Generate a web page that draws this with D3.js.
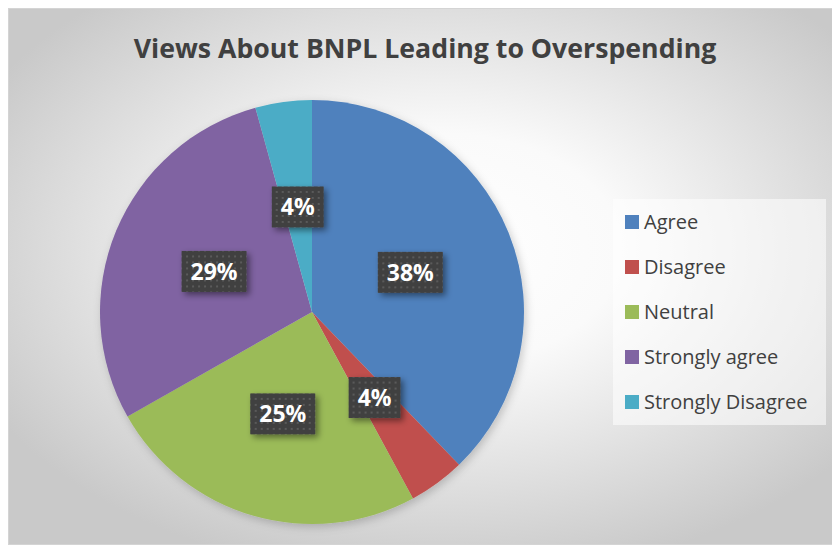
<!DOCTYPE html>
<html lang="en">
<head>
    <meta charset="utf-8">
    <title>Views About BNPL Leading to Overspending</title>
    <script type="text/javascript" src="https://d3js.org/d3.v7.min.js"></script>
    <style type="text/css">
        body { margin: 0; background: #fff; }
        text { font-family: "Open Sans", Lato, sans-serif; }
    </style>
</head>
<body>
    <script type="text/javascript">

        const categories = ["Agree", "Disagree", "Neutral", "Strongly agree", "Strongly Disagree"];
        const values = [37.8, 4.3, 24.7, 28.9, 4.3];
        const colors = ["#4f81bd", "#c0504d", "#9bbb59", "#8064a2", "#4bacc6"];
        const title = "Views About BNPL Leading to Overspending";

        const width = 832;
        const height = 546;
        const cx = 312, cy = 312, radius = 212;

        const data = categories.map((c, i) => ({ name: c, value: values[i] }));
        const total = d3.sum(values);

        const svg = d3.select("body")
                    .append("svg")
                    .attr("width", width)
                    .attr("height", height);

        const defs = svg.append("defs");

        // chart background gradient
        const grad = defs.append("radialGradient")
            .attr("id", "bg")
            .attr("cx", "52%").attr("cy", "45%").attr("r", "62%");
        grad.append("stop").attr("offset", "0%").attr("stop-color", "#ffffff");
        grad.append("stop").attr("offset", "35%").attr("stop-color", "#fafafa");
        grad.append("stop").attr("offset", "100%").attr("stop-color", "#c9c9c9");

        // dotted pattern for label boxes
        const pat = defs.append("pattern")
            .attr("id", "dots")
            .attr("width", 6).attr("height", 6)
            .attr("patternUnits", "userSpaceOnUse");
        pat.append("rect").attr("width", 6).attr("height", 6).attr("fill", "#404040");
        pat.append("rect").attr("x", 2).attr("y", 2).attr("width", 2).attr("height", 2).attr("fill", "#5a5a5a");

        const shadow = defs.append("filter").attr("id", "shadow")
            .attr("x", "-30%").attr("y", "-30%").attr("width", "160%").attr("height", "160%");
        shadow.append("feDropShadow")
            .attr("dx", 3).attr("dy", 3).attr("stdDeviation", 3)
            .attr("flood-color", "#000").attr("flood-opacity", 0.45);

        const pieShadow = defs.append("filter").attr("id", "pieShadow")
            .attr("x", "-10%").attr("y", "-10%").attr("width", "120%").attr("height", "120%");
        pieShadow.append("feDropShadow")
            .attr("dx", 2).attr("dy", 3).attr("stdDeviation", 4)
            .attr("flood-color", "#000").attr("flood-opacity", 0.2);

        // chart area
        svg.append("rect")
            .attr("x", 8.5).attr("y", 8.5)
            .attr("width", width).attr("height", height - 10)
            .attr("fill", "url(#bg)")
            .attr("stroke", "#d4d4d4");

        // title
        svg.append("text")
            .attr("x", 425)
            .attr("y", 58)
            .attr("text-anchor", "middle")
            .attr("font-size", 26.7)
            .attr("font-weight", "bold")
            .attr("fill", "#404040")
            .text(title);

        // pie
        const pie = d3.pie().sort(null).value(d => d.value);
        const arc = d3.arc().innerRadius(0).outerRadius(radius);
        const arcs = pie(data);

        const g = svg.append("g").attr("transform", `translate(${cx},${cy})`);

        g.append("g").attr("filter", "url(#pieShadow)")
            .selectAll("path")
            .data(arcs)
            .enter()
            .append("path")
            .attr("d", arc)
            .attr("fill", (d, i) => colors[i]);

        // data labels
        const fmt = d3.format(".0%");
        const labels = g.selectAll(".lbl")
            .data(arcs)
            .enter()
            .append("g")
            .attr("class", "lbl")
            .attr("transform", d => `translate(${arc.centroid(d)})`);

        labels.append("rect").attr("fill", "url(#dots)").attr("filter", "url(#shadow)");
        labels.append("text")
            .attr("text-anchor", "middle")
            .attr("y", 8.5)
            .attr("font-size", 23)
            .attr("font-weight", "bold")
            .attr("fill", "#fff")
            .text(d => fmt(d.value / total));

        labels.each(function() {
            const t = d3.select(this).select("text").node().getComputedTextLength();
            d3.select(this).select("rect")
                .attr("x", -t / 2 - 9).attr("y", -20.5)
                .attr("width", t + 18).attr("height", 41);
        });

        // legend
        const legend = svg.append("g");
        legend.append("rect")
            .attr("x", 613).attr("y", 199)
            .attr("width", 213).attr("height", 226)
            .attr("fill", "#ffffff").attr("fill-opacity", 0.55);

        const rows = legend.selectAll(".row")
            .data(categories)
            .enter()
            .append("g")
            .attr("transform", (d, i) => `translate(625,${222 + i * 45})`);

        rows.append("rect")
            .attr("x", 0).attr("y", -7)
            .attr("width", 14).attr("height", 14)
            .attr("fill", (d, i) => colors[i]);

        rows.append("text")
            .attr("x", 19).attr("y", 7)
            .attr("font-size", 20)
            .attr("fill", "#404040")
            .text(d => d);

    </script>
</body>
</html>
